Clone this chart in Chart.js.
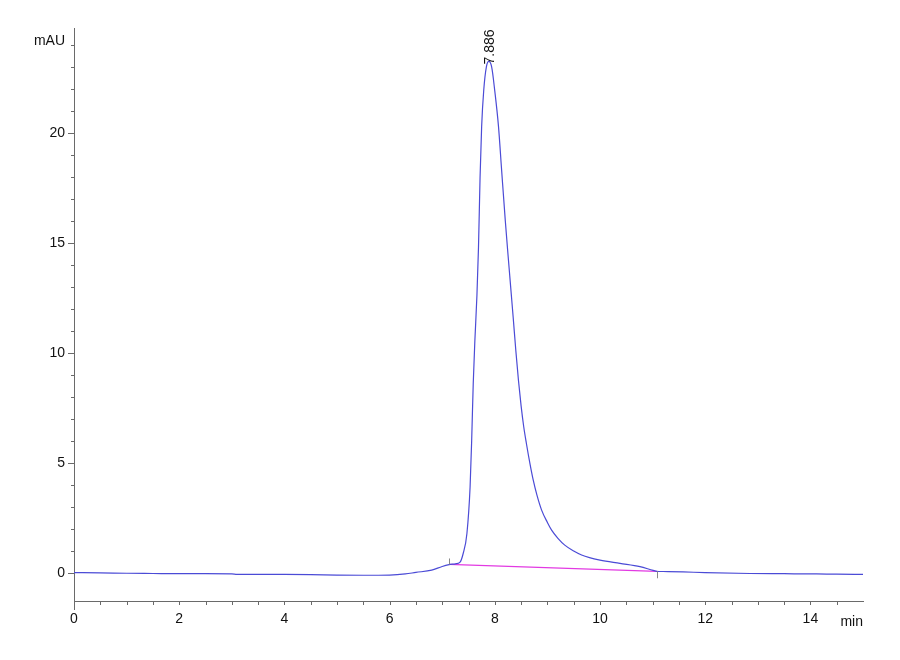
<!DOCTYPE html>
<html lang="en">
<head>
    <meta charset="UTF-8">
    <title>Chromatogram</title>
    <script src="https://cdn.jsdelivr.net/npm/chart.js"></script>
    <style>
        html, body { margin: 0; padding: 0; background: #fff; }
        .wrap { width: 900px; height: 660px; }
    </style>
</head>
<body>
    <div class="wrap"><canvas id="chromChart" width="900" height="660"></canvas></div>
    <script>
        // signal trace (min, mAU)
        const times = [0, 0.5, 1, 1.5, 2, 2.5, 3, 3.1, 3.5, 4, 4.5, 5, 5.5, 6, 6.3, 6.5, 6.8, 7.0, 7.13,
            7.25, 7.34, 7.40, 7.47, 7.53, 7.56, 7.59, 7.62, 7.66, 7.69, 7.72, 7.75, 7.79, 7.84, 7.886,
            7.94, 8.0, 8.07, 8.13, 8.20, 8.25, 8.30, 8.35, 8.40, 8.45, 8.50, 8.55, 8.60, 8.67, 8.73,
            8.80, 8.89, 9.0, 9.08, 9.2, 9.33, 9.5, 9.65, 9.8, 10.0, 10.38, 10.76, 11.01, 11.08, 11.2,
            11.58, 12.0, 12.85, 13.5, 14.12, 14.5, 15.0];
        const signal = [0.02, 0.01, -0.01, -0.02, -0.03, -0.03, -0.04, -0.06, -0.06, -0.06, -0.07, -0.09, -0.1, -0.09, -0.04, 0.03, 0.13, 0.3, 0.38,
            0.42, 0.5, 0.9, 1.8, 3.9, 6.0, 8.6, 10.5, 12.6, 14.8, 18.0, 20.3, 21.95, 23.0, 23.25,
            23.0, 21.9, 20.3, 18.3, 16.0, 14.5, 13.05, 11.6, 10.1, 8.75, 7.6, 6.65, 5.9, 4.95, 4.23,
            3.55, 2.86, 2.3, 1.95, 1.58, 1.27, 1.0, 0.82, 0.7, 0.59, 0.44, 0.29, 0.12, 0.08, 0.07,
            0.05, 0.02, -0.02, -0.03, -0.04, -0.05, -0.06];

        // integration baseline (start, end)
        const baseTimes = [7.13, 11.08];
        const baseValues = [0.39, 0.08];

        // peak annotation
        const peakTime = 7.886;
        const peakValue = 23.25;
        const peakLabel = '7.886';

        const xMin = 0, xMax = 15;
        const yMin = -1.27, yMax = 24.77;

        const axisColor = '#6a6a6a';
        const tickFont = { family: "'Liberation Sans', Arial, sans-serif", size: 14 };

        const traceData = times.map((t, i) => ({ x: t, y: signal[i] }));
        const baseData = baseTimes.map((t, i) => ({ x: t, y: baseValues[i] }));

        const annotate = {
            id: 'annotate',
            afterDraw(chart) {
                const ctx = chart.ctx;
                const xs = chart.scales.x, ys = chart.scales.y;
                const area = chart.chartArea;
                ctx.save();
                ctx.strokeStyle = axisColor;
                ctx.lineWidth = 1;
                // axis tick marks: long on labelled values, short otherwise
                ys.ticks.forEach(t => {
                    const py = Math.round(ys.getPixelForValue(t.value)) + 0.5;
                    const len = Math.abs(t.value % 5) < 1e-6 ? 6 : 3;
                    ctx.beginPath();
                    ctx.moveTo(area.left, py);
                    ctx.lineTo(area.left - len, py);
                    ctx.stroke();
                });
                xs.ticks.forEach(t => {
                    const px = Math.round(xs.getPixelForValue(t.value)) + 0.5;
                    const len = t.value === 0 ? 9 : 4;
                    ctx.beginPath();
                    ctx.moveTo(px, area.bottom);
                    ctx.lineTo(px, area.bottom + len);
                    ctx.stroke();
                });

                // small marks at the integration start and end
                ctx.strokeStyle = '#888';
                baseTimes.forEach((t, i) => {
                    const px = Math.round(xs.getPixelForValue(t)) + 0.5;
                    const py = ys.getPixelForValue(baseValues[i]);
                    ctx.beginPath();
                    if (i === 0) { ctx.moveTo(px, py); ctx.lineTo(px, py - 6); }
                    else { ctx.moveTo(px, py); ctx.lineTo(px, py + 7); }
                    ctx.stroke();
                });

                // peak retention time, rotated
                const px = xs.getPixelForValue(peakTime);
                const py = ys.getPixelForValue(peakValue);
                ctx.translate(px + 1, py + 3);
                ctx.rotate(-Math.PI / 2);
                ctx.fillStyle = '#111';
                ctx.font = "14px 'Liberation Sans', Arial, sans-serif";
                ctx.textAlign = 'left';
                ctx.textBaseline = 'middle';
                ctx.fillText(peakLabel, 0, 0);
                ctx.restore();

                // axis unit labels
                ctx.save();
                ctx.fillStyle = '#111';
                ctx.font = "14px 'Liberation Sans', Arial, sans-serif";
                ctx.textBaseline = 'middle';
                ctx.textAlign = 'right';
                ctx.fillText('mAU', area.left - 9, 41);
                ctx.fillText('min', area.right, 622);
                ctx.restore();
            }
        };

        new Chart(document.getElementById('chromChart'), {
            type: 'line',
            data: {
                datasets: [
                    {
                        label: 'signal',
                        data: traceData,
                        borderColor: '#4b4bd6',
                        borderWidth: 1.2,
                        pointRadius: 0,
                        cubicInterpolationMode: 'monotone',
                        fill: false
                    },
                    {
                        label: 'baseline',
                        data: baseData,
                        borderColor: '#e23ae2',
                        borderWidth: 1.3,
                        pointRadius: 0,
                        fill: false
                    }
                ]
            },
            options: {
                responsive: false,
                animation: false,
                devicePixelRatio: 1,
                layout: { padding: { left: 0, top: 28, right: 37, bottom: 0 } },
                plugins: { legend: { display: false }, tooltip: { enabled: false } },
                scales: {
                    x: {
                        type: 'linear',
                        min: xMin,
                        max: xMax,
                        afterFit: (s) => { s.height = 59; },
                        afterBuildTicks: (s) => { s.ticks = s.ticks.filter(t => Math.abs(t.value * 2 - Math.round(t.value * 2)) < 1e-6 && t.value < xMax); },
                        border: { display: true, color: axisColor, width: 1 },
                        grid: { drawOnChartArea: false, color: 'rgba(0,0,0,0)', tickLength: 6 },
                        ticks: {
                            stepSize: 0.5,
                            autoSkip: false,
                            maxRotation: 0,
                            color: '#111',
                            font: tickFont,
                            padding: 4,
                            callback: (v) => (Math.abs(v % 2) < 1e-6 ? String(v) : '')
                        }
                    },
                    y: {
                        type: 'linear',
                        min: yMin,
                        max: yMax,
                        afterFit: (s) => { s.width = 74; },
                        afterBuildTicks: (s) => { s.ticks = s.ticks.filter(t => Math.abs(t.value - Math.round(t.value)) < 1e-6); },
                        border: { display: true, color: axisColor, width: 1 },
                        grid: { drawOnChartArea: false, color: 'rgba(0,0,0,0)', tickLength: 6 },
                        ticks: {
                            stepSize: 1,
                            autoSkip: false,
                            color: '#111',
                            font: tickFont,
                            padding: 3,
                            callback: (v) => (Math.abs(v % 5) < 1e-6 ? String(v) : '')
                        }
                    }
                }
            },
            plugins: [annotate]
        });
    </script>
</body>
</html>
